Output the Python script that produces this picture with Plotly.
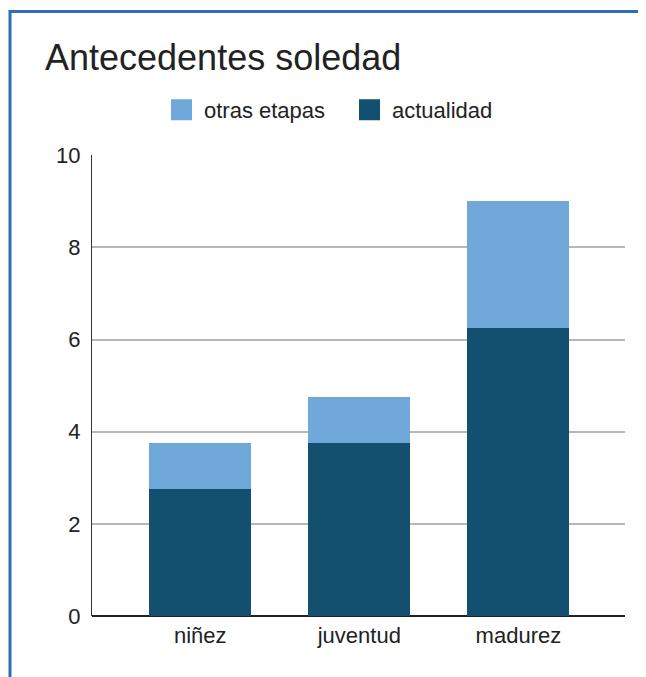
import plotly.graph_objects as go

categories = ["niñez", "juventud", "madurez"]
actualidad = [2.75, 3.75, 6.25]
otras_etapas = [1.0, 1.0, 2.75]
y_ticks = [0, 2, 4, 6, 8, 10]

OFF = 8  # page body margin
W, H = 646 - OFF, 677 - OFF
L, R, T, B = 92 - OFF, 21, 153 - OFF, 61
pw, ph = W - L - R, H - T - B

def px_x(x):  # reference screen x -> paper
    return (x - OFF - L) / pw

def px_y(y):  # reference screen y -> paper
    return (H - B - (y - OFF)) / ph

DARK = "#134f6f"
LIGHT = "#6fa8d9"

fig = go.Figure()
fig.add_trace(go.Bar(x=categories, y=actualidad, name="actualidad", showlegend=False,
                     marker=dict(color=DARK, line=dict(width=0)), width=0.64))
fig.add_trace(go.Bar(x=categories, y=otras_etapas, name="otras etapas", showlegend=False,
                     marker=dict(color=LIGHT, line=dict(width=0)), width=0.64))
# legend entries with larger swatches
for nm, col in [("otras etapas", LIGHT), ("actualidad", DARK)]:
    fig.add_trace(go.Scatter(x=[None], y=[None], mode="markers", name=nm,
                             marker=dict(symbol="square", size=16, color=col,
                                         line=dict(width=6, color=col))))

fig.update_layout(
    width=W, height=H, barmode="stack",
    margin=dict(l=L, r=R, t=T, b=B),
    paper_bgcolor="white", plot_bgcolor="white",
    font=dict(family="Liberation Sans, Arial, sans-serif", color="#222222"),
    title=dict(text="Antecedentes soledad", x=(45 - OFF) / W, xref="container", xanchor="left",
               y=1 - (57 - OFF) / H, yref="container", yanchor="middle",
               font=dict(size=36, color="#222222")),
    legend=dict(orientation="h", x=(347 - OFF) / W, xref="container", xanchor="center",
                y=1 - (110 - OFF) / H, yref="container", yanchor="middle",
                traceorder="normal", entrywidth=138, entrywidthmode="pixels",
                font=dict(size=22, color="#222222"), itemwidth=35),
    showlegend=True,
)
fig.update_xaxes(range=[-0.68, 2.67], showgrid=False, showline=False,
                 ticks="", tickfont=dict(size=22, color="#222222"), ticklabelstandoff=4)
fig.update_yaxes(range=[0, 10], tickvals=y_ticks, showgrid=True, gridcolor="#b7b7b7",
                 gridwidth=1.5, zeroline=True, zerolinecolor="#222222", zerolinewidth=2,
                 showline=True, linecolor="#333333", linewidth=1, ticks="",
                 tickfont=dict(size=22, color="#222222"), ticklabelstandoff=6)

# chart frame border (top and left)
fig.add_shape(type="line", xref="paper", yref="paper",
              x0=px_x(9), x1=px_x(660), y0=px_y(8.5), y1=px_y(8.5),
              line=dict(color="#2f6db5", width=3))
fig.add_shape(type="line", xref="paper", yref="paper",
              x0=px_x(10), x1=px_x(10), y0=px_y(7), y1=px_y(700),
              line=dict(color="#2f6db5", width=3))

fig.write_html("out.html")
